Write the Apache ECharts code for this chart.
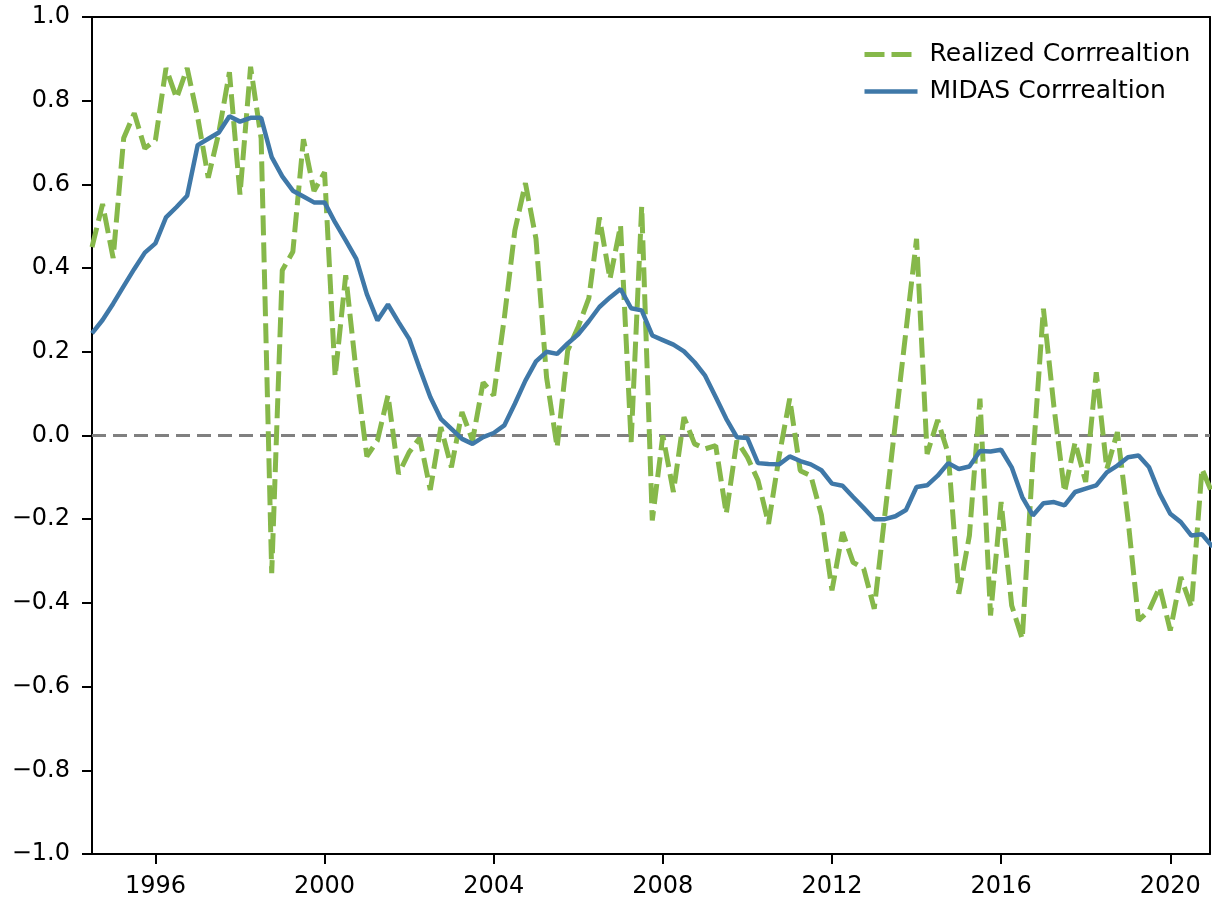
<!DOCTYPE html>
<html>
<head>
<meta charset="utf-8">
<script src="https://cdn.jsdelivr.net/npm/echarts@6/dist/echarts.min.js"></script>
<style>html,body{margin:0;padding:0;background:#fff}#c{width:1212px;height:903px}</style>
</head>
<body>
<div id="c"></div>
<script>
// Quarterly observations, first one at mid-1994
const startYear = 1994.5;
const stepYears = 0.25;
const xTickYears = [1996, 2000, 2004, 2008, 2012, 2016, 2020];
const yTickLabels = [-1.0, -0.8, -0.6, -0.4, -0.2, 0.0, 0.2, 0.4, 0.6, 0.8, 1.0];
const seriesNames = ['Realized Corrrealtion', 'MIDAS Corrrealtion'];

const realized = [
  0.45, 0.553, 0.424, 0.711, 0.770, 0.686, 0.706, 0.878, 0.806, 0.878,
  0.76, 0.616, 0.724, 0.868, 0.576, 0.881, 0.71, -0.329, 0.395, 0.439,
  0.708, 0.584, 0.629, 0.141, 0.383, 0.15, -0.05, -0.012, 0.096, -0.092,
  -0.04, -0.006, -0.13, 0.02, -0.076, 0.056, -0.012, 0.127, 0.096, 0.28,
  0.49, 0.603, 0.47, 0.139, -0.028, 0.203, 0.26, 0.328, 0.521, 0.374,
  0.502, -0.016, 0.547, -0.203, 0.0, -0.135, 0.044, -0.02, -0.032, -0.024,
  -0.187, -0.012, -0.052, -0.107, -0.211, -0.05, 0.088, -0.084, -0.096, -0.19,
  -0.37, -0.231, -0.303, -0.318, -0.414, -0.19, 0.03, 0.25, 0.47, -0.044,
  0.037, -0.044, -0.378, -0.239, 0.088, -0.43, -0.159, -0.406, -0.486, -0.06,
  0.303, 0.068, -0.135, -0.016, -0.111, 0.151, -0.08, 0.008, -0.2, -0.442,
  -0.418, -0.362, -0.466, -0.338, -0.41, -0.08, -0.14
];

const midas = [
  0.244, 0.276, 0.315, 0.357, 0.398, 0.437, 0.459, 0.521, 0.546, 0.573,
  0.694, 0.709, 0.724, 0.763, 0.75, 0.759, 0.759, 0.665, 0.619, 0.585,
  0.571, 0.557, 0.557, 0.509, 0.466, 0.422, 0.338, 0.275, 0.313, 0.271,
  0.231, 0.16, 0.092, 0.04, 0.016, -0.008, -0.02, -0.004, 0.006, 0.024,
  0.076, 0.131, 0.177, 0.2, 0.195, 0.22, 0.242, 0.273, 0.307, 0.33,
  0.35, 0.304, 0.299, 0.239, 0.228, 0.217, 0.201, 0.175, 0.143, 0.092,
  0.04, -0.004, -0.006, -0.066, -0.068, -0.069, -0.05, -0.061, -0.069, -0.083,
  -0.115, -0.12, -0.147, -0.173, -0.2, -0.2, -0.193, -0.178, -0.123, -0.119,
  -0.096, -0.066, -0.08, -0.074, -0.037, -0.038, -0.034, -0.076, -0.147, -0.191,
  -0.162, -0.159, -0.167, -0.135, -0.127, -0.119, -0.088, -0.072, -0.052, -0.048,
  -0.076, -0.139, -0.187, -0.207, -0.239, -0.236, -0.266
];

const dates = realized.map((_, i) => startYear + i * stepYears);
const pairs = arr => arr.map((v, i) => [dates[i], v]);

const FONT = 'DejaVu Sans';
const GREEN = '#86b84a';
const BLUE = '#3f78a8';
const GREEN_W = 5, BLUE_W = 4.5;
const GREEN_DASH = [20, 7];
const xMin = 1994.5, xMax = 2020.94;
const hiddenSymbol = {color: 'rgba(0,0,0,0)', borderWidth: 0, opacity: 0};

const chart = echarts.init(document.getElementById('c'), null, {renderer: 'canvas'});
chart.setOption({
  animation: false,
  backgroundColor: '#ffffff',
  textStyle: {fontFamily: FONT},
  grid: {left: 92, right: 2, top: 17, height: 837, containLabel: false},
  legend: {
    orient: 'vertical',
    left: 857,
    top: 37,
    itemWidth: 53,
    itemHeight: 24,
    itemGap: 12,
    itemStyle: hiddenSymbol,
    data: [
      {name: seriesNames[0], itemStyle: hiddenSymbol, lineStyle: {color: GREEN, width: GREEN_W, type: GREEN_DASH}},
      {name: seriesNames[1], itemStyle: hiddenSymbol, lineStyle: {color: BLUE, width: BLUE_W, type: 'solid'}}
    ],
    textStyle: {fontFamily: FONT, fontSize: 25, color: '#000', padding: [0, 0, 0, 7]},
    backgroundColor: 'transparent',
    borderWidth: 0
  },
  xAxis: [{
    type: 'value',
    min: xMin,
    max: xMax,
    axisLine: {show: true, onZero: false, lineStyle: {color: '#000', width: 2}},
    axisTick: {show: true, length: 10, lineStyle: {color: '#000', width: 2}, customValues: xTickYears},
    axisLabel: {
      show: true, customValues: xTickYears, margin: 21,
      fontFamily: FONT, fontSize: 24, color: '#000',
      formatter: v => String(Math.round(v))
    },
    splitLine: {show: false}
  }, {
    type: 'value', position: 'top', min: xMin, max: xMax,
    axisLine: {show: true, onZero: false, lineStyle: {color: '#000', width: 2}},
    axisTick: {show: false}, axisLabel: {show: false}, splitLine: {show: false}
  }],
  yAxis: [{
    type: 'value',
    min: -1, max: 1, interval: 0.2,
    axisLine: {show: true, onZero: false, lineStyle: {color: '#000', width: 2}},
    axisTick: {show: true, length: 10, lineStyle: {color: '#000', width: 2}},
    axisLabel: {
      margin: 22, fontFamily: FONT, fontSize: 24, color: '#000',
      customValues: yTickLabels,
      formatter: v => (v < -1e-9 ? '\u2212' : '') + Math.abs(v).toFixed(1)
    },
    splitLine: {show: false}
  }, {
    type: 'value', position: 'right', min: -1, max: 1,
    axisLine: {show: true, onZero: false, lineStyle: {color: '#000', width: 2}},
    axisTick: {show: false}, axisLabel: {show: false}, splitLine: {show: false}
  }],
  series: [{
    name: seriesNames[0],
    type: 'line',
    data: pairs(realized),
    showSymbol: false,
    symbol: 'none',
    clip: true,
    z: 3,
    itemStyle: {color: GREEN},
    lineStyle: {color: GREEN, width: GREEN_W, type: GREEN_DASH},
    markLine: {
      silent: true,
      symbol: ['none', 'none'],
      label: {show: false},
      z: 1,
      lineStyle: {color: '#808080', width: 3, type: [14, 7]},
      data: [{yAxis: 0}]
    }
  }, {
    name: seriesNames[1],
    type: 'line',
    data: pairs(midas),
    showSymbol: false,
    symbol: 'none',
    clip: true,
    z: 4,
    itemStyle: {color: BLUE},
    lineStyle: {color: BLUE, width: BLUE_W}
  }]
});
</script>
</body>
</html>
